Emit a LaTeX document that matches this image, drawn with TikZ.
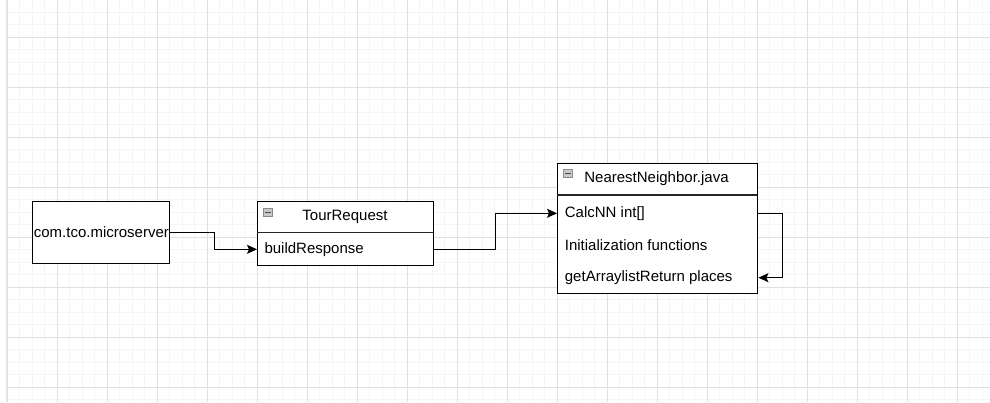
\documentclass[tikz,border=0pt]{standalone}
\usepackage{fontspec}
\setmainfont{Liberation Sans}
\usetikzlibrary{arrows.meta}
\definecolor{minorg}{HTML}{F5F5F5}
\definecolor{majorg}{HTML}{E0E0E0}
\definecolor{edgeg}{HTML}{E6E6E6}
\definecolor{iconfill}{HTML}{C8C8C8}
\definecolor{icondraw}{HTML}{8A8A8A}
\begin{document}
\begin{tikzpicture}[x=1pt,y=-1pt,
  minorline/.style={draw=minorg,line width=1pt},
  majorline/.style={draw=majorg,line width=1pt},
  box/.style={draw=black,line width=1.1pt,fill=white,inner sep=0pt,anchor=north west,font=\fontsize{15}{18}\selectfont},
  hdr/.style={draw=black!85,line width=1.4pt},
  titletext/.style={inner sep=0pt,font=\fontsize{15}{18}\selectfont},
  rowtext/.style={inner sep=0pt,anchor=west,font=\fontsize{15}{18}\selectfont},
  icon/.style={draw=icondraw,fill=iconfill,line width=0.7pt},
  arr/.style={draw=black,line width=1.2pt,-{Stealth[length=10pt,width=9pt,inset=2pt]}}
]
\useasboundingbox (0,0) rectangle (990,402);
\fill[white] (0,0) rectangle (990,402);
% grid
\foreach \i in {0,...,78} \draw[minorline] ({7.3+12.5*\i},0) -- ++(0,402);
\foreach \j in {0,...,31} \draw[minorline] (7.3,{12.3+12.5*\j}) -- (990,{12.3+12.5*\j});
\foreach \i in {0,...,19} \draw[majorline] ({7.3+50*\i},0) -- ++(0,402);
\foreach \j in {0,...,7} \draw[majorline] (7.3,{37.3+50*\j}) -- (990,{37.3+50*\j});
\draw[draw=edgeg,line width=1.4pt] (6.6,0) -- (6.6,402);

% com.tco.microserver
\node[box,minimum width=137,minimum height=62] (ms) at (32.3,200.7) {};
\node[titletext] (mst) at (ms.center) {com.tco.microserver};

% TourRequest
\node[box,minimum width=175.7,minimum height=64.6] (tr) at (257,200.7) {};
\draw[hdr] (257,232.7) -- (432.7,232.7);
\draw[icon] (263.5,208.3) rectangle (272.5,216.3);
\draw[line width=0.9pt,black!70] (265,212.3) -- (271,212.3);
\node[titletext] (trt) at (345,216.7) {TourRequest};
\node[rowtext] (br) at (264.3,249.3) {buildResponse};

% NearestNeighbor.java
\node[box,minimum width=200.3,minimum height=130] (nn) at (557,162.7) {};
\draw[hdr] (557,195) -- (757.3,195);
\draw[icon] (563.5,169.3) rectangle (572.5,177.3);
\draw[line width=0.9pt,black!70] (565,173.3) -- (571,173.3);
\node[titletext] (nnt) at (656.5,178.9) {NearestNeighbor.java};
\node[rowtext] (cn) at (564.7,213.3) {CalcNN int[]};
\node[rowtext] (inf) at (564.7,245) {Initialization functions};
\node[rowtext] (ga) at (564.7,277.7) {getArraylistReturn places};

% connectors
\draw[arr] (ms.east) -- ++(44,0) |- (tr.west |- br);
\draw[arr] (tr.east |- br) -- ++(61.3,0) |- (nn.west |- cn);
\draw[arr] (nn.east |- cn) -- ++(24.4,0) |- (nn.east |- ga);
\end{tikzpicture}
\end{document}
